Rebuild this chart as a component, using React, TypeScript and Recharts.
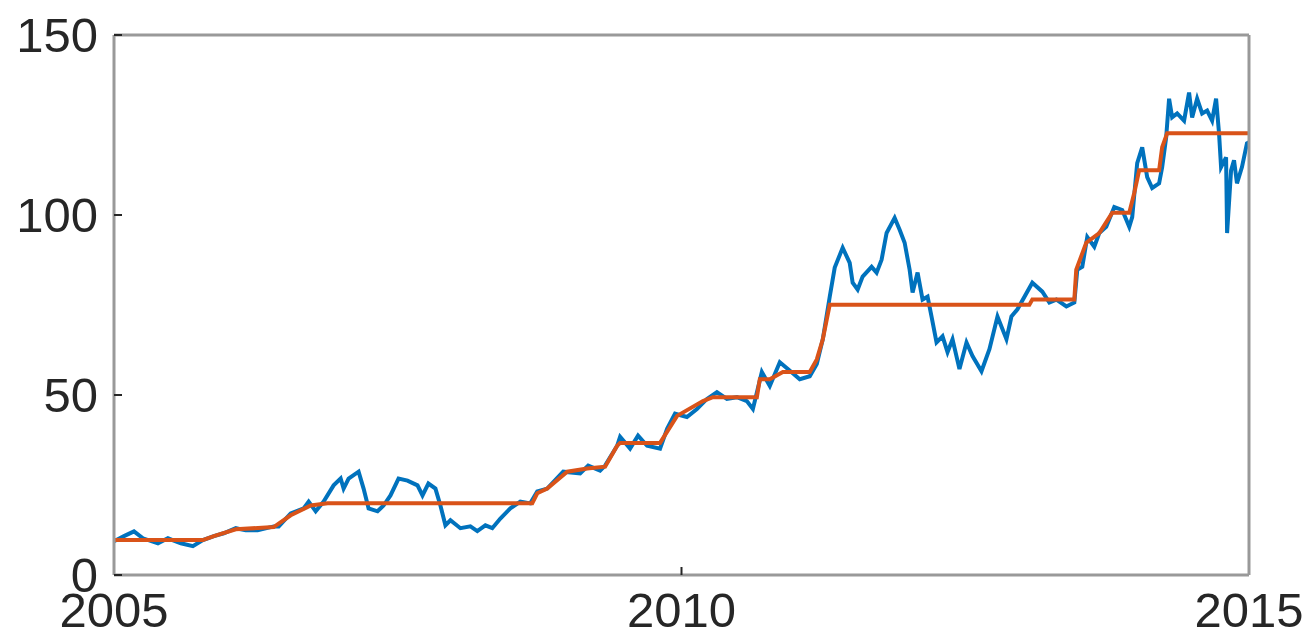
import { LineChart, Line, XAxis, YAxis } from "recharts"

// blue series: price (decimal year, value)
const priceYears = [
  2005.0, 2005.088, 2005.176, 2005.255, 2005.387, 2005.475, 2005.589, 2005.695, 2005.783, 2005.88,
  2005.967, 2006.073, 2006.161, 2006.266, 2006.407, 2006.451, 2006.557, 2006.671, 2006.715, 2006.777,
  2006.847, 2006.935, 2006.997, 2007.023, 2007.067, 2007.155, 2007.199, 2007.243, 2007.322, 2007.375,
  2007.436, 2007.507, 2007.586, 2007.674, 2007.718, 2007.77, 2007.832, 2007.876, 2007.92, 2007.964,
  2008.052, 2008.14, 2008.201, 2008.272, 2008.333, 2008.404, 2008.492, 2008.58, 2008.668, 2008.729,
  2008.817, 2008.958, 2009.107, 2009.178, 2009.283, 2009.327, 2009.433, 2009.459, 2009.547, 2009.617,
  2009.697, 2009.811, 2009.873, 2009.943, 2010.048, 2010.136, 2010.224, 2010.312, 2010.4, 2010.488,
  2010.576, 2010.629, 2010.708, 2010.778, 2010.866, 2010.937, 2011.042, 2011.13, 2011.192, 2011.245,
  2011.306, 2011.35, 2011.42, 2011.482, 2011.508, 2011.552, 2011.596, 2011.675, 2011.719, 2011.763,
  2011.807, 2011.878, 2011.922, 2011.966, 2012.01, 2012.036, 2012.08, 2012.124, 2012.168, 2012.203,
  2012.247, 2012.3, 2012.344, 2012.388, 2012.449, 2012.511, 2012.564, 2012.643, 2012.713, 2012.784,
  2012.863, 2012.907, 2012.96, 2013.091, 2013.179, 2013.241, 2013.303, 2013.391, 2013.461, 2013.487,
  2013.531, 2013.575, 2013.637, 2013.681, 2013.742, 2013.813, 2013.883, 2013.945, 2013.971, 2014.015,
  2014.059, 2014.103, 2014.147, 2014.208, 2014.235, 2014.27, 2014.296, 2014.323, 2014.367, 2014.428,
  2014.472, 2014.499, 2014.543, 2014.587, 2014.631, 2014.675, 2014.71, 2014.736, 2014.754, 2014.798,
  2014.807, 2014.842, 2014.868, 2014.894, 2014.938, 2014.982, 2015.0,
]
const priceValues = [
  9.4, 10.8, 12.1, 10.2, 8.8, 10.2, 8.8, 8.0, 9.7, 10.8,
  11.6, 13.0, 12.4, 12.4, 13.5, 13.5, 17.1, 18.5, 20.4, 17.7,
  20.4, 24.9, 26.8, 24.0, 26.8, 28.7, 24.0, 18.5, 17.7, 19.3,
  22.1, 26.8, 26.2, 24.9, 22.1, 25.4, 24.0, 19.3, 13.8, 15.2,
  13.0, 13.5, 12.2, 13.8, 13.0, 15.7, 18.5, 20.4, 19.9, 23.2,
  24.0, 28.7, 28.2, 30.4, 29.0, 30.4, 35.9, 38.4, 35.1, 38.7,
  35.9, 35.1, 40.6, 44.8, 43.9, 46.1, 48.9, 50.8, 48.9, 49.4,
  48.3, 46.1, 56.4, 52.5, 59.1, 57.2, 54.4, 55.2, 58.6, 65.5,
  77.3, 85.4, 90.9, 86.7, 81.2, 79.3, 82.9, 85.6, 84.0, 87.6,
  95.0, 99.2, 95.9, 92.3, 84.8, 78.5, 84.0, 76.5, 77.3, 71.8,
  64.6, 66.3, 61.9, 65.5, 57.2, 64.6, 60.8, 56.6, 62.7, 71.8,
  65.5, 71.8, 73.8, 81.2, 78.7, 75.7, 76.5, 74.6, 75.7, 84.8,
  85.6, 93.9, 91.2, 95.0, 96.7, 102.2, 101.4, 96.7, 99.4, 114.4,
  118.8, 110.5, 107.5, 108.8, 113.3, 121.5, 132.3, 127.1, 128.2, 126.2,
  134.0, 127.1, 132.3, 128.2, 129.0, 126.2, 132.3, 122.7, 113.3, 116.0,
  95.0, 112.4, 115.2, 108.8, 113.3, 119.9, 120.2,
]

// orange series: monotone step fit
const fitYears = [
  2005.0, 2005.783, 2005.88, 2006.073, 2006.407, 2006.557, 2006.733, 2006.882, 2008.685, 2008.729,
  2008.817, 2008.993, 2009.169, 2009.327, 2009.433, 2009.459, 2009.811, 2009.961, 2010.189, 2010.277,
  2010.664, 2010.69, 2010.778, 2010.893, 2011.13, 2011.192, 2011.245, 2011.306, 2013.065, 2013.091,
  2013.461, 2013.478, 2013.566, 2013.681, 2013.795, 2013.945, 2013.989, 2014.032, 2014.208, 2014.235,
  2014.279, 2015.0,
]
const fitValues = [
  9.7, 9.7, 10.8, 12.7, 13.3, 16.6, 19.3, 19.9, 19.9, 22.7,
  24.0, 28.7, 29.6, 30.1, 35.9, 36.7, 36.7, 44.2, 48.3, 49.4,
  49.4, 54.4, 54.4, 56.4, 56.4, 59.9, 65.5, 75.1, 75.1, 76.5,
  76.5, 84.8, 92.3, 95.0, 100.6, 100.6, 106.1, 112.4, 112.4, 118.8,
  122.7, 122.7,
]

const yTicks = [0, 50, 100, 150]
const xTicks = [2005, 2010, 2015]

const priceData = priceYears.map((t, i) => ({ t, v: priceValues[i] }))
const fitData = fitYears.map((t, i) => ({ t, v: fitValues[i] }))

const axisColor = "#999999"
const tickStyle = { fontSize: 49, fill: "#262626", fontFamily: "'Liberation Sans', Arial, sans-serif" }

export default function App() {
  return (
    <div style={{ position: "absolute", left: 0, top: 0, width: 1313, height: 634, background: "#fff" }}>
      <LineChart width={1313} height={634} margin={{ top: 34, right: 63, left: 54, bottom: 0 }}>
        <XAxis
          dataKey="t"
          type="number"
          domain={[2005, 2015]}
          ticks={xTicks}
          height={59}
          interval={0}
          allowDataOverflow
          axisLine={{ stroke: axisColor, strokeWidth: 3 }}
          tickLine={{ stroke: "#262626", strokeWidth: 2 }}
          tickSize={-8}
          tickMargin={25}
          tick={tickStyle}
        />
        <XAxis
          xAxisId="top"
          dataKey="t"
          orientation="top"
          type="number"
          domain={[2005, 2015]}
          ticks={xTicks}
          height={1}
          allowDataOverflow
          axisLine={{ stroke: axisColor, strokeWidth: 3 }}
          tickLine={{ stroke: "#262626", strokeWidth: 2 }}
          tickSize={-8}
          tick={false}
        />
        <YAxis
          type="number"
          domain={[0, 150]}
          ticks={yTicks}
          width={60}
          interval={0}
          allowDataOverflow
          axisLine={{ stroke: axisColor, strokeWidth: 3 }}
          tickLine={{ stroke: "#262626", strokeWidth: 2 }}
          tickSize={-8}
          tickMargin={24}
          tick={tickStyle}
        />
        <YAxis
          yAxisId="right"
          orientation="right"
          type="number"
          domain={[0, 150]}
          ticks={yTicks}
          width={1}
          allowDataOverflow
          axisLine={{ stroke: axisColor, strokeWidth: 3 }}
          tickLine={{ stroke: "#262626", strokeWidth: 2 }}
          tickSize={-8}
          tick={false}
        />
        <Line
          data={priceData}
          dataKey="v"
          type="linear"
          stroke="#0072BD"
          strokeWidth={4}
          dot={false}
          isAnimationActive={false}
        />
        <Line
          data={fitData}
          xAxisId="top"
          yAxisId="right"
          dataKey="v"
          type="linear"
          stroke="#D95319"
          strokeWidth={4}
          dot={false}
          isAnimationActive={false}
        />
      </LineChart>
    </div>
  )
}
